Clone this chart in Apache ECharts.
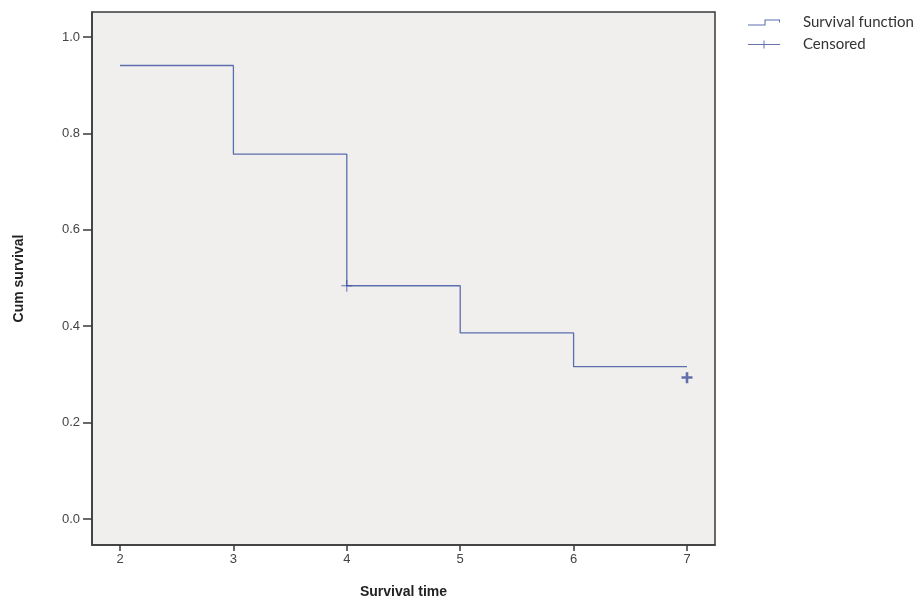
<!DOCTYPE html>
<html>
<head>
<meta charset="utf-8">
<script src="https://cdn.jsdelivr.net/npm/echarts@6/dist/echarts.min.js"></script>
<style>html,body{margin:0;padding:0;background:#fff;}#c{width:917px;height:606px;}</style>
</head>
<body>
<div id="c"></div>
<script>
var times = [2, 3, 4, 5, 6, 7];
var survival = [0.941, 0.757, 0.484, 0.386, 0.316, 0.316];
var censoredTimes = [4, 7];
var censoredValues = [0.484, 0.293];
var xTicks = [2, 3, 4, 5, 6, 7];
var yTicks = [0, 0.2, 0.4, 0.6, 0.8, 1.0];

var lineColor = '#5b6eae';
var stepData = times.map(function (t, i) { return [t, survival[i]]; });
var censData = censoredTimes.map(function (t, i) {
  return {
    value: [t, censoredValues[i]],
    symbol: i === 0 ? 'path://M0,5.5H11V6.5H0Z M5,0H6V12H5Z' : 'path://M0,4H11V6.5H0Z M4.2,0H6.8V11H4.2Z',
    symbolSize: i === 0 ? [11, 12] : [11, 11]
  };
});

var chart = echarts.init(document.getElementById('c'), null, { renderer: 'canvas' });
chart.setOption({
  animation: false,
  backgroundColor: '#ffffff',
  grid: {
    left: 92, top: 12, width: 623, height: 533,
    show: true, backgroundColor: '#f0efed', borderColor: '#3a3a3a', borderWidth: 1.5
  },
  legend: {
    orient: 'vertical', left: 748, top: 15, itemWidth: 32, itemHeight: 14, itemGap: 7, padding: 0,
    textStyle: { fontFamily: 'Lato', fontSize: 15, color: '#333', padding: [0, 0, 0, 18] },
    data: [
      { name: 'Survival function', icon: 'path://M0,9H16V4H31V7H30V5H17V10H0Z' },
      { name: 'Censored', icon: 'path://M0,6.5H32V7.5H0Z M15.5,3H16.5V11H15.5Z' }
    ]
  },
  xAxis: {
    type: 'value', min: 1.753, max: 7.247,
    name: 'Survival time', nameLocation: 'middle', nameGap: 40,
    nameTextStyle: { fontFamily: 'Liberation Sans', fontWeight: 'bold', fontSize: 14, color: '#222' },
    axisLine: { show: true, onZero: false, lineStyle: { color: '#3a3a3a', width: 1.5 } },
    axisTick: { show: true, inside: false, customValues: xTicks, length: 6, lineStyle: { color: '#3a3a3a', width: 1.5 } },
    axisLabel: { customValues: xTicks, fontFamily: 'Liberation Sans', fontSize: 13, color: '#444', margin: 8 },
    splitLine: { show: false }
  },
  yAxis: {
    type: 'value', min: -0.054, max: 1.052,
    name: 'Cum survival', nameLocation: 'middle', nameGap: 66, nameRotate: 90,
    nameTextStyle: { fontFamily: 'Liberation Sans', fontWeight: 'bold', fontSize: 14, color: '#222' },
    axisLine: { show: true, onZero: false, lineStyle: { color: '#3a3a3a', width: 1.5 } },
    axisTick: { show: true, inside: false, customValues: yTicks, length: 9, lineStyle: { color: '#3a3a3a', width: 1.5 } },
    axisLabel: { customValues: yTicks, fontFamily: 'Liberation Sans', fontSize: 13, color: '#444', margin: 12,
      formatter: function (v) { return v.toFixed(1); } },
    splitLine: { show: false }
  },
  series: [
    {
      name: 'Survival function', type: 'line', step: 'end', data: stepData,
      showSymbol: false, symbol: 'none',
      lineStyle: { color: lineColor, width: 1.3 }, itemStyle: { color: lineColor }
    },
    {
      name: 'Censored', type: 'scatter', data: censData,
      itemStyle: { color: '#3d4f99' }, z: 3
    }
  ]
});
</script>
</body>
</html>
